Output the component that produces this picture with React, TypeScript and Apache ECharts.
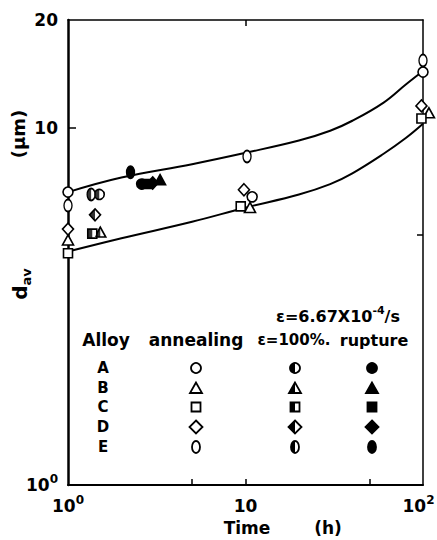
import React, { useEffect, useRef } from "react";
import * as echarts from "echarts";

// fitted curves (time in h, d_av in µm)
const curveTimes = [1, 2, 5, 10, 20, 30, 40, 60, 80, 100];
const upperCurve = [6.6, 7.25, 7.9, 8.5, 9.2, 9.8, 10.45, 11.75, 13.2, 14.4];
const lowerCurve = [4.5, 4.9, 5.45, 5.97, 6.5, 6.95, 7.45, 8.45, 9.35, 10.25];

// annealing (open symbols)
const annealA = [[1, 6.6], [10.9, 6.4], [100, 14.3]];
const annealB = [[1, 4.85], [10.6, 5.98], [108, 11.0]];
const annealC = [[1, 4.45], [9.4, 6.02], [98, 10.6]];
const annealD = [[1, 5.2], [9.8, 6.7], [98, 11.5]];
const annealE = [[1, 6.05], [10.2, 8.3], [100, 15.4]];
// strain 100 % (half-filled symbols)
const strainA = [[1.5, 6.5]];
const strainB = [[1.52, 5.1]];
const strainC = [[1.37, 5.05]];
const strainD = [[1.42, 5.7]];
const strainE = [[1.35, 6.5]];
// rupture (filled symbols)
const ruptureA = [[2.6, 6.95]];
const ruptureB = [[3.3, 7.15]];
const ruptureC = [[2.8, 6.95]];
const ruptureD = [[3.0, 7.0]];
const ruptureE = [[2.25, 7.5]];

const xLabelValues = [1, 10, 100];
const xTickValues = [5, 10, 50];
const yLabelValues = [1, 10, 20];
const yTickValues = [10];
const topTickValues = [10];
const rightTickValues = [5];

const alloys = ["A", "B", "C", "D", "E"];
const columnTitles = ["Alloy", "annealing", "\u03b5=100%.", "rupture"];

const FONT = "DejaVu Sans";

const CIRCLE_PATH = "path://M0,50A50,50 0 1 1 100,50A50,50 0 1 1 0,50Z";
const HALF_ROUND = "path://M50,0A50,50 0 0 0 50,100Z";
const HALF_TRI = "path://M50,0L0,100L50,100Z";
const HALF_RECT = "path://M0,0L50,0L50,100L0,100Z";
const HALF_DIAMOND = "path://M50,0L0,50L50,100Z";

const shapeDefs: any = {
  circle: { full: "circle", half: HALF_ROUND, size: [10, 10] },
  triangle: { full: "triangle", half: HALF_TRI, size: [11, 10] },
  square: { full: "rect", half: HALF_RECT, size: [9, 9] },
  diamond: { full: "diamond", half: HALF_DIAMOND, size: [11, 12] },
  ellipse: { full: CIRCLE_PATH, half: HALF_ROUND, size: [8, 12] },
};
const alloyShapes = ["circle", "triangle", "square", "diamond", "ellipse"];

function scatter(data: number[][], shape: string, mode: string) {
  const s = shapeDefs[shape];
  const base: any = {
    type: "scatter",
    data,
    symbol: s.full,
    symbolSize: s.size,
    z: 3,
    clip: false,
    silent: true,
    itemStyle: {
      color: mode === "full" ? "#000" : "#fff",
      borderColor: "#000",
      borderWidth: 1.6,
      opacity: 1,
    },
  };
  if (mode !== "half") return [base];
  return [
    base,
    {
      type: "scatter",
      data,
      symbol: s.half,
      symbolSize: [s.size[0] / 2, s.size[1]],
      symbolOffset: [-s.size[0] / 4, 0],
      z: 4,
      clip: false,
      silent: true,
      itemStyle: { color: "#000", borderWidth: 0 },
    },
  ];
}

function tickFormatter(v: number) {
  if (Math.abs(v - 1) < 1e-6) return "{b|10}{s|0}";
  if (Math.abs(v - 100) < 1e-6) return "{b|10}{s2|2}";
  return "{b|" + Math.round(v) + "}";
}
const tickRich = {
  b: { fontSize: 17, fontWeight: "bold", fontFamily: FONT, color: "#000", lineHeight: 24 },
  s: { fontSize: 12, fontWeight: "bold", fontFamily: FONT, color: "#000", lineHeight: 24, verticalAlign: "top" },
  s2: { fontSize: 12, fontWeight: "bold", fontFamily: FONT, color: "#000", lineHeight: 24, verticalAlign: "top", padding: [0, 9, 0, 0] },
};

function legendSymbol(shape: string, cx: number, cy: number, mode: string): any[] {
  const fill = mode === "full" ? "#000" : "#fff";
  const st = { fill, stroke: "#000", lineWidth: 1.8 };
  const out: any[] = [];
  if (shape === "circle") {
    out.push({ type: "circle", shape: { cx, cy, r: 5 }, style: st });
    if (mode === "half")
      out.push({ type: "sector", shape: { cx, cy, r0: 0, r: 5, startAngle: Math.PI / 2, endAngle: (Math.PI * 3) / 2 }, style: { fill: "#000" } });
  } else if (shape === "triangle") {
    out.push({ type: "polygon", shape: { points: [[cx, cy - 5.5], [cx - 6, cy + 5], [cx + 6, cy + 5]] }, style: st });
    if (mode === "half")
      out.push({ type: "polygon", shape: { points: [[cx, cy - 5.5], [cx - 6, cy + 5], [cx, cy + 5]] }, style: { fill: "#000" } });
  } else if (shape === "square") {
    out.push({ type: "rect", shape: { x: cx - 4.5, y: cy - 4.5, width: 9, height: 9 }, style: st });
    if (mode === "half")
      out.push({ type: "rect", shape: { x: cx - 4.5, y: cy - 4.5, width: 4.5, height: 9 }, style: { fill: "#000" } });
  } else if (shape === "diamond") {
    out.push({ type: "polygon", shape: { points: [[cx, cy - 6.5], [cx + 6.5, cy], [cx, cy + 6.5], [cx - 6.5, cy]] }, style: st });
    if (mode === "half")
      out.push({ type: "polygon", shape: { points: [[cx, cy - 6.5], [cx - 6.5, cy], [cx, cy + 6.5]] }, style: { fill: "#000" } });
  } else {
    out.push({ type: "ellipse", shape: { cx, cy, rx: 4, ry: 6 }, style: st });
    if (mode === "half")
      out.push({ type: "sector", x: cx, y: cy, scaleX: 4 / 6, shape: { cx: 0, cy: 0, r0: 0, r: 6, startAngle: Math.PI / 2, endAngle: (Math.PI * 3) / 2 }, style: { fill: "#000" } });
  }
  return out;
}

function txt(text: string, x: number, y: number, size: number, extra: any = {}) {
  return {
    type: "text",
    x,
    y,
    rotation: extra.rotation || 0,
    style: {
      text,
      fill: "#000",
      fontSize: size,
      fontWeight: "bold",
      fontFamily: FONT,
      align: extra.align || "center",
      verticalAlign: "middle",
      textAlign: extra.align || "center",
      textVerticalAlign: "middle",
      rich: extra.rich,
    },
  };
}

export default function App() {
  const ref = useRef<HTMLDivElement>(null);
  useEffect(() => {
    if (!ref.current) return;
    const chart = echarts.init(ref.current, undefined, { renderer: "svg" });

    const series: any[] = [
      {
        type: "line",
        data: curveTimes.map((t, i) => [t, upperCurve[i]]),
        smooth: 0.4,
        symbol: "none",
        lineStyle: { color: "#000", width: 2 },
        z: 2,
        silent: true,
      },
      {
        type: "line",
        data: curveTimes.map((t, i) => [t, lowerCurve[i]]),
        smooth: 0.4,
        symbol: "none",
        lineStyle: { color: "#000", width: 2 },
        z: 2,
        silent: true,
      },
    ];
    const annealSets = [annealA, annealB, annealC, annealD, annealE];
    const strainSets = [strainA, strainB, strainC, strainD, strainE];
    const ruptureSets = [ruptureA, ruptureB, ruptureC, ruptureD, ruptureE];
    alloyShapes.forEach((sh, i) => {
      series.push(...scatter(annealSets[i], sh, "open"));
      series.push(...scatter(strainSets[i], sh, "half"));
      series.push(...scatter(ruptureSets[i], sh, "full"));
    });

    // legend table
    const graphics: any[] = [];
    const rowY = [368, 388, 407, 427, 447];
    const colX = [196, 295, 372];
    const modes = ["open", "half", "full"];
    alloys.forEach((a, i) => {
      graphics.push(txt(a, 103, rowY[i], 15));
      modes.forEach((m, j) => graphics.push(...legendSymbol(alloyShapes[i], colX[j], rowY[i], m)));
    });
    const titleX = [106, 196, 294, 374];
    const titleSize = [17, 17, 15, 16];
    columnTitles.forEach((t, i) => graphics.push(txt(t, titleX[i], 340, titleSize[i])));
    graphics.push(
      txt("{t|\u03b5=6.67X10}{s|-4}{t|/s}", 338, 316, 16, {
        rich: {
          t: { fontSize: 16, fontWeight: "bold", fontFamily: FONT, lineHeight: 22 },
          s: { fontSize: 11, fontWeight: "bold", fontFamily: FONT, lineHeight: 22, verticalAlign: "top" },
        },
      })
    );
    // axis titles
    graphics.push(txt("(\u03bcm)", 18, 134, 18, { rotation: Math.PI / 2 }));
    graphics.push(
      txt("{d|d}{s|av}", 20, 284, 18, {
        rotation: Math.PI / 2,
        rich: {
          d: { fontSize: 20, fontWeight: "bold", fontFamily: FONT, lineHeight: 26 },
          s: { fontSize: 13, fontWeight: "bold", fontFamily: FONT, lineHeight: 26, verticalAlign: "bottom" },
        },
      })
    );
    graphics.push(txt("Time", 247, 528, 17));
    graphics.push(txt("(h)", 328, 528, 17));

    const axisLineBase = (w: number) => ({ show: true, onZero: false, lineStyle: { color: "#000", width: w } });

    chart.setOption({
      animation: false,
      backgroundColor: "#fff",
      grid: { left: 68, right: 14, top: 20, bottom: 55, containLabel: false, outerBoundsMode: "none" },
      xAxis: [
        {
          type: "log",
          logBase: 10,
          min: 1,
          max: 100,
          position: "bottom",
          axisLine: axisLineBase(2),
          axisTick: { show: true, inside: true, length: 6, customValues: xTickValues, lineStyle: { color: "#000", width: 1.5 } },
          axisLabel: { show: true, customValues: xLabelValues, formatter: tickFormatter, rich: tickRich, margin: 9 },
          splitLine: { show: false },
          minorTick: { show: false },
        },
        {
          type: "log",
          logBase: 10,
          min: 1,
          max: 100,
          position: "top",
          axisLine: axisLineBase(1.5),
          axisTick: { show: true, inside: true, length: 6, customValues: topTickValues, lineStyle: { color: "#000", width: 1.5 } },
          axisLabel: { show: false },
          splitLine: { show: false },
        },
      ],
      yAxis: [
        {
          type: "log",
          logBase: 10,
          min: 1,
          max: 20,
          position: "left",
          axisLine: axisLineBase(2.5),
          axisTick: { show: true, inside: true, length: 8, customValues: yTickValues, lineStyle: { color: "#000", width: 1.5 } },
          axisLabel: { show: true, customValues: yLabelValues, formatter: tickFormatter, rich: tickRich, margin: 10 },
          splitLine: { show: false },
        },
        {
          type: "log",
          logBase: 10,
          min: 1,
          max: 20,
          position: "right",
          axisLine: axisLineBase(1.5),
          axisTick: { show: true, inside: true, length: 6, customValues: rightTickValues, lineStyle: { color: "#000", width: 1.5 } },
          axisLabel: { show: false },
          splitLine: { show: false },
        },
      ],
      series,
      graphic: graphics,
    });
    return () => chart.dispose();
  }, []);
  return (
    <div
      ref={ref}
      style={{ position: "fixed", left: 0, top: 0, width: 437, height: 540, background: "#fff" }}
    />
  );
}
